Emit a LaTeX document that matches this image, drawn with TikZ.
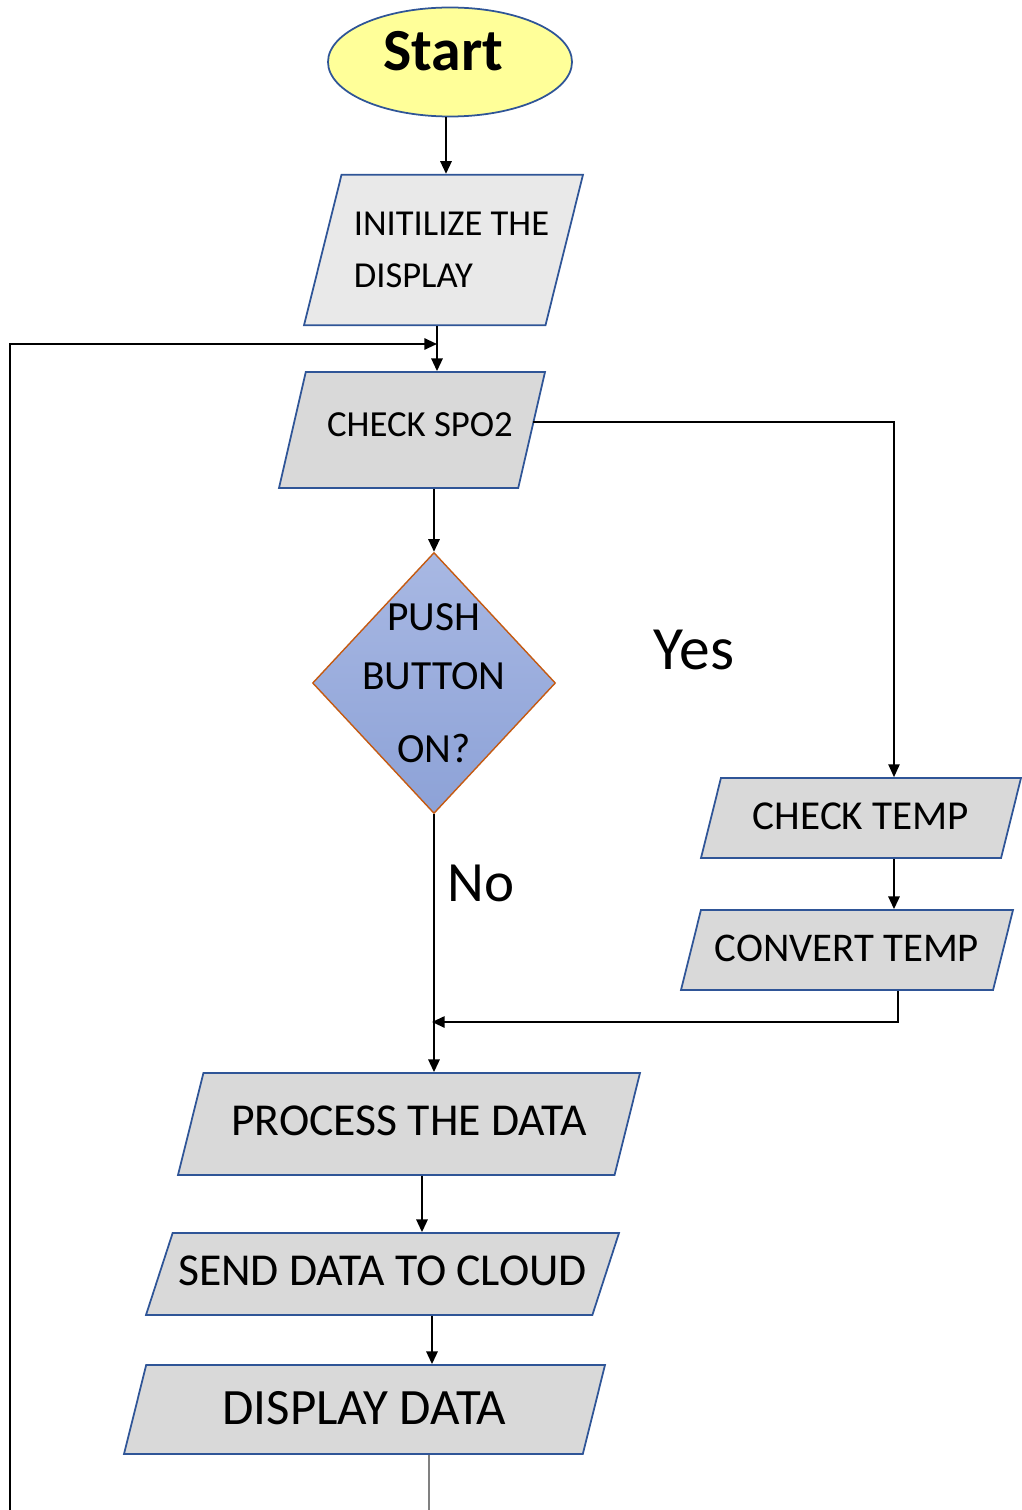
\documentclass[tikz,border=0pt]{standalone}
\usepackage{fontspec}
\setmainfont{Carlito}
\usetikzlibrary{shapes.geometric,arrows.meta}
\definecolor{ioblue}{HTML}{2F5597}
\definecolor{boxgray}{HTML}{D9D9D9}
\definecolor{initgray}{HTML}{E9E9E9}
\definecolor{startyellow}{HTML}{FFFF99}
\definecolor{edgeorange}{HTML}{C55A11}
\definecolor{buttontop}{HTML}{A8B8E3}
\definecolor{buttonbottom}{HTML}{8DA2D7}

\begin{document}
\begin{tikzpicture}[
  >={Triangle[length=3.6pt,width=3.2pt]},
  flow/.style={line width=0.6pt},
  thinflow/.style={line width=0.35pt},
  io/.style={trapezium, trapezium left angle=76, trapezium right angle=104,
    trapezium stretches body, draw=ioblue, line width=0.5pt, fill=boxgray,
    inner xsep=1pt, text height=0.632em, text depth=0pt, inner ysep={(#1-0.632em)/2}},
  terminal/.style={ellipse, draw=ioblue, line width=0.5pt, fill=startyellow, inner sep=0pt,
    minimum width=2.44cm, minimum height=1.09cm},
  decision/.style={diamond, draw=edgeorange, line width=0.4pt, top color=buttontop,
    bottom color=buttonbottom, inner sep=0pt, minimum width=2.43cm, minimum height=2.61cm},
  answer/.style={font=\fontsize{17.5}{20}\selectfont}
]
\useasboundingbox (0,0) rectangle (10.21,-15.10);

% Start and display setup
\node[terminal, font=\bfseries\fontsize{17}{20}\selectfont] (start) at (4.50,-0.62)
  {\rule[-0.22cm]{0pt}{0pt}Start\hspace*{0.14cm}};
\node[io=1.50cm, fill=initgray, minimum width=2.79cm, align=left, text height=, text depth=,
  inner ysep={(1.50cm-21.6pt)/2}, font=\fontsize{10.4}{15}\selectfont] (init) at (4.435,-2.50)
  {\hspace*{0.08cm}INITILIZE THE\hspace*{-0.08cm}\\\hspace*{0.08cm}DISPLAY};

% Sensor readings
\node[io=1.16cm, trapezium left angle=77, trapezium right angle=103, minimum width=2.66cm,
  font=\fontsize{10.45}{12}\selectfont] (spo2) at (4.12,-4.30)
  {\hspace*{0.16cm}\raisebox{0.05cm}{CHECK SPO2}};
\node[decision] (button) at (4.34,-6.83) {};
\node[align=center, font=\fontsize{11.8}{16.8}\selectfont] (buttontext) at (button) {PUSH\\BUTTON\\[4pt]ON?};
\node[io=0.80cm, minimum width=3.20cm, font=\fontsize{11.7}{13}\selectfont] (temp) at (8.61,-8.18) {CHECK TEMP};
\node[io=0.80cm, minimum width=3.32cm, font=\fontsize{11.6}{13}\selectfont] (convert) at (8.47,-9.50) {CONVERT TEMP};
\node[answer] (yes) at (6.94,-6.50) {Yes};
\node[answer, font=\fontsize{16.2}{19}\selectfont] (no) at (4.81,-8.83) {No};

% Data handling
\node[io=1.02cm, minimum width=4.62cm, font=\fontsize{13}{15}\selectfont] (process) at (4.09,-11.24) {PROCESS THE DATA};
\node[io=0.82cm, trapezium left angle=72, trapezium right angle=108, minimum width=4.73cm,
  font=\fontsize{13}{15}\selectfont] (send) at (3.825,-12.74) {SEND DATA TO CLOUD};
\node[io=0.89cm, minimum width=4.81cm, font=\fontsize{14.5}{16}\selectfont] (display) at (3.645,-14.095)
  {\raisebox{-0.04cm}{DISPLAY DATA}};

% Connectors
\coordinate (entry) at (4.46,-1.17);
\coordinate (join) at (4.37,-3.44);
\coordinate (loop) at (0.10,-15.10);
\coordinate (branch) at (8.94,-4.22);
\coordinate (back) at (8.98,-10.22);
\coordinate (merge) at (4.32,-10.22);
\coordinate (mid) at (4.22,-12.04);
\coordinate (out) at (4.29,-15.10);
\draw[->, flow] (start.south -| entry) -- (init.north -| entry);
\draw[->, flow] (init.south -| join) -- (spo2.north -| join);
\draw[->, flow] (loop) |- (join);
\draw[->, thinflow] (spo2.east |- branch) -- (branch) -- (branch |- temp.north);
\draw[->, flow] (spo2.south -| button.north) -- (button.north);
\draw[->, flow] (button.south) -- (button.south |- process.north);
\draw[->, flow] (branch |- temp.south) -- (branch |- convert.north);
\draw[->, flow] (back |- convert.south) -- (back) -- (merge);
\draw[->, flow] (mid |- process.south) -- (mid |- send.north);
\draw[->, flow] (merge |- send.south) -- (merge |- display.north);
\draw[thinflow, gray] (out |- display.south) -- (out);
\end{tikzpicture}
\end{document}
